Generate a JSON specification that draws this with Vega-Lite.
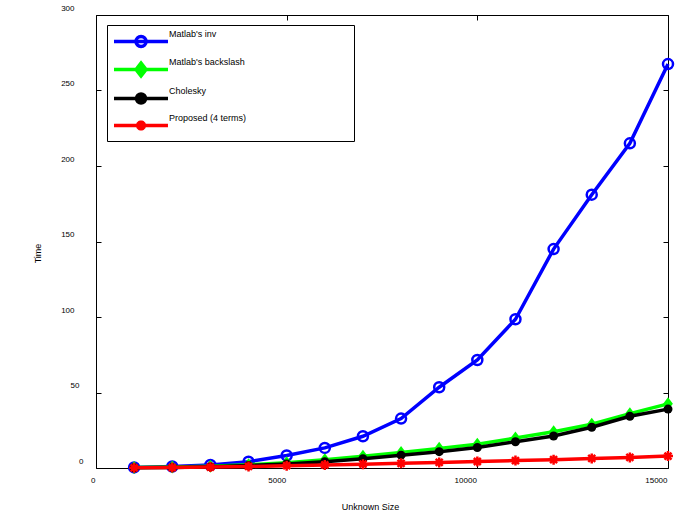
{
  "$schema": "https://vega.github.io/schema/vega-lite/v6.json",
  "width": 572,
  "height": 453,
  "autosize": {"type": "none"},
  "padding": {"left": 96, "top": 15, "right": 24, "bottom": 58},
  "background": "white",
  "config": {
    "view": {"stroke": "black", "strokeWidth": 1},
    "font": "Liberation Sans",
    "axis": {
      "labelFont": "Liberation Sans", "labelFontSize": 8, "labelColor": "black",
      "titleFont": "Liberation Sans", "titleFontSize": 9, "titleFontWeight": "normal", "titleColor": "black",
      "tickColor": "black", "tickWidth": 1, "tickSize": -5, "grid": false, "domain": false
    },
    "legend": {
      "labelFont": "Liberation Sans", "labelFontSize": 9, "labelColor": "black",
      "strokeColor": "black", "fillColor": "white", "padding": 3,
      "symbolSize": 289, "symbolStrokeWidth": 3.5, "labelOffset": 38, "rowPadding": 2,
      "labelLimit": 1000, "labelBaseline": "bottom"
    }
  },
  "data": {
    "values": [
      {"size": 1000, "time": 0.4, "method": "Matlab's inv"},
      {"size": 2000, "time": 1.0, "method": "Matlab's inv"},
      {"size": 3000, "time": 2.0, "method": "Matlab's inv"},
      {"size": 4000, "time": 4.2, "method": "Matlab's inv"},
      {"size": 5000, "time": 8.3, "method": "Matlab's inv"},
      {"size": 6000, "time": 13.3, "method": "Matlab's inv"},
      {"size": 7000, "time": 21, "method": "Matlab's inv"},
      {"size": 8000, "time": 32.7, "method": "Matlab's inv"},
      {"size": 9000, "time": 53.5, "method": "Matlab's inv"},
      {"size": 10000, "time": 71.5, "method": "Matlab's inv"},
      {"size": 11000, "time": 98.5, "method": "Matlab's inv"},
      {"size": 12000, "time": 145, "method": "Matlab's inv"},
      {"size": 13000, "time": 181, "method": "Matlab's inv"},
      {"size": 14000, "time": 215, "method": "Matlab's inv"},
      {"size": 15000, "time": 267.5, "method": "Matlab's inv"},
      {"size": 1000, "time": 0.3, "method": "Matlab's backslash"},
      {"size": 2000, "time": 0.6, "method": "Matlab's backslash"},
      {"size": 3000, "time": 1.2, "method": "Matlab's backslash"},
      {"size": 4000, "time": 2.2, "method": "Matlab's backslash"},
      {"size": 5000, "time": 3.5, "method": "Matlab's backslash"},
      {"size": 6000, "time": 5.5, "method": "Matlab's backslash"},
      {"size": 7000, "time": 7.8, "method": "Matlab's backslash"},
      {"size": 8000, "time": 10.3, "method": "Matlab's backslash"},
      {"size": 9000, "time": 13, "method": "Matlab's backslash"},
      {"size": 10000, "time": 15.8, "method": "Matlab's backslash"},
      {"size": 11000, "time": 19.8, "method": "Matlab's backslash"},
      {"size": 12000, "time": 24, "method": "Matlab's backslash"},
      {"size": 13000, "time": 29, "method": "Matlab's backslash"},
      {"size": 14000, "time": 36, "method": "Matlab's backslash"},
      {"size": 15000, "time": 42.5, "method": "Matlab's backslash"},
      {"size": 1000, "time": 0.2, "method": "Cholesky"},
      {"size": 2000, "time": 0.4, "method": "Cholesky"},
      {"size": 3000, "time": 0.9, "method": "Cholesky"},
      {"size": 4000, "time": 1.6, "method": "Cholesky"},
      {"size": 5000, "time": 2.7, "method": "Cholesky"},
      {"size": 6000, "time": 4.2, "method": "Cholesky"},
      {"size": 7000, "time": 6.2, "method": "Cholesky"},
      {"size": 8000, "time": 8.5, "method": "Cholesky"},
      {"size": 9000, "time": 10.8, "method": "Cholesky"},
      {"size": 10000, "time": 13.6, "method": "Cholesky"},
      {"size": 11000, "time": 17.4, "method": "Cholesky"},
      {"size": 12000, "time": 21.2, "method": "Cholesky"},
      {"size": 13000, "time": 27, "method": "Cholesky"},
      {"size": 14000, "time": 34.3, "method": "Cholesky"},
      {"size": 15000, "time": 39, "method": "Cholesky"},
      {"size": 1000, "time": 0.1, "method": "Proposed (4 terms)"},
      {"size": 2000, "time": 0.3, "method": "Proposed (4 terms)"},
      {"size": 3000, "time": 0.6, "method": "Proposed (4 terms)"},
      {"size": 4000, "time": 1.0, "method": "Proposed (4 terms)"},
      {"size": 5000, "time": 1.5, "method": "Proposed (4 terms)"},
      {"size": 6000, "time": 2.0, "method": "Proposed (4 terms)"},
      {"size": 7000, "time": 2.5, "method": "Proposed (4 terms)"},
      {"size": 8000, "time": 3.1, "method": "Proposed (4 terms)"},
      {"size": 9000, "time": 3.7, "method": "Proposed (4 terms)"},
      {"size": 10000, "time": 4.3, "method": "Proposed (4 terms)"},
      {"size": 11000, "time": 4.9, "method": "Proposed (4 terms)"},
      {"size": 12000, "time": 5.5, "method": "Proposed (4 terms)"},
      {"size": 13000, "time": 6.3, "method": "Proposed (4 terms)"},
      {"size": 14000, "time": 7.0, "method": "Proposed (4 terms)"},
      {"size": 15000, "time": 7.9, "method": "Proposed (4 terms)"}
    ]
  },
  "layer": [
    {
      "transform": [{"filter": "datum.method == \"Matlab's inv\""}],
      "mark": {"type": "line", "color": "#0000ff", "strokeWidth": 3.5},
      "encoding": {
        "x": {"field": "size", "type": "quantitative", "scale": {"domain": [0, 15000], "nice": false, "zero": false},
          "axis": {"orient": "bottom", "values": [0, 5000, 10000, 15000], "title": "Unknown Size", "labelAlign": "right", "labelFlush": false, "labelOffset": -1, "labelPadding": 13, "labelBaseline": "top", "format": "d", "titleX": 274, "titleY": 38, "titleBaseline": "middle", "titleAnchor": null}},
        "y": {"field": "time", "type": "quantitative", "scale": {"domain": [0, 300], "nice": false, "zero": false},
          "axis": {"orient": "left", "values": [0, 50, 100, 150, 200, 250, 300], "title": "Time", "labelOffset": -7, "labelAlign": "right", "labelBaseline": "middle", "labelFlush": false,
            "labelPadding": {"condition": [{"test": "datum.value == 0", "value": 18}, {"test": "datum.value == 50", "value": 22}], "value": 27},
            "titleX": -59, "titleY": 238, "titleBaseline": "middle", "titleAlign": "center"}}
      }
    },
    {
      "transform": [{"filter": "datum.method == \"Matlab's inv\""}],
      "mark": {"type": "point", "shape": "circle", "filled": false, "color": "#0000ff", "strokeWidth": 2.5, "size": 100, "opacity": 1},
      "encoding": {
        "x": {"field": "size", "type": "quantitative", "scale": {"domain": [0, 15000], "nice": false, "zero": false},
          "axis": {"orient": "top", "values": [0, 5000, 10000, 15000], "labels": false, "title": null}},
        "y": {"field": "time", "type": "quantitative", "scale": {"domain": [0, 300], "nice": false, "zero": false},
          "axis": {"orient": "right", "values": [0, 50, 100, 150, 200, 250, 300], "labels": false, "title": null}}
      }
    },
    {
      "transform": [{"filter": "datum.method == \"Matlab's backslash\""}],
      "mark": {"type": "line", "color": "#00ff00", "strokeWidth": 3.5},
      "encoding": {
        "x": {"field": "size", "type": "quantitative", "axis": null},
        "y": {"field": "time", "type": "quantitative", "axis": null}
      }
    },
    {
      "transform": [{"filter": "datum.method == \"Matlab's backslash\""}],
      "mark": {"type": "point", "shape": "M-0.75,0L0,-1L0.75,0L0,1Z", "filled": true, "color": "#00ff00", "size": 169, "opacity": 1},
      "encoding": {
        "x": {"field": "size", "type": "quantitative", "axis": null},
        "y": {"field": "time", "type": "quantitative", "axis": null}
      }
    },
    {
      "transform": [{"filter": "datum.method == 'Cholesky'"}],
      "mark": {"type": "line", "color": "#000000", "strokeWidth": 3.5},
      "encoding": {
        "x": {"field": "size", "type": "quantitative", "axis": null},
        "y": {"field": "time", "type": "quantitative", "axis": null}
      }
    },
    {
      "transform": [{"filter": "datum.method == 'Cholesky'"}],
      "mark": {"type": "point", "shape": "circle", "filled": true, "color": "#000000", "size": 81, "opacity": 1},
      "encoding": {
        "x": {"field": "size", "type": "quantitative", "axis": null},
        "y": {"field": "time", "type": "quantitative", "axis": null}
      }
    },
    {
      "transform": [{"filter": "datum.method == 'Proposed (4 terms)'"}],
      "mark": {"type": "line", "color": "#ff0000", "strokeWidth": 3.5},
      "encoding": {
        "x": {"field": "size", "type": "quantitative", "axis": null},
        "y": {"field": "time", "type": "quantitative", "axis": null}
      }
    },
    {
      "transform": [{"filter": "datum.method == 'Proposed (4 terms)'"}],
      "mark": {"type": "point", "shape": "M-1,0L1,0M0,-1L0,1M-0.7,-0.7L0.7,0.7M-0.7,0.7L0.7,-0.7", "filled": false, "color": "#ff0000", "strokeWidth": 2.5, "size": 100, "opacity": 1},
      "encoding": {
        "x": {"field": "size", "type": "quantitative", "axis": null},
        "y": {"field": "time", "type": "quantitative", "axis": null}
      }
    },
    {
      "transform": [{"filter": "datum.size < 0"}],
      "mark": {"type": "point", "opacity": 1},
      "encoding": {
        "shape": {"field": "method", "type": "nominal",
          "scale": {"domain": ["Matlab's inv", "Matlab's backslash", "Cholesky", "Proposed (4 terms)"],
            "range": [
              "M-0.765,0.35L5.585,0.35M3.005,0.35A0.59,0.59,0,1,1,1.825,0.35A0.59,0.59,0,1,1,3.005,0.35ZM26.25,0.35",
              "M-0.765,0.35L5.585,0.35M1.825,0.35L2.415,-0.41L3.005,0.35L2.415,1.11ZM26.25,0.35",
              "M-0.765,0.35L5.585,0.35M2.945,0.35A0.53,0.53,0,1,1,1.885,0.35A0.53,0.53,0,1,1,2.945,0.35ZM26.25,0.35",
              "M-0.765,0.35L5.585,0.35M1.825,0.35L3.005,0.35M2.415,-0.24L2.415,0.94M1.995,-0.07L2.835,0.77M1.995,0.77L2.835,-0.07M26.25,0.35"
            ]},
          "legend": {"title": null, "orient": "none", "legendX": 11, "legendY": 10}},
        "stroke": {"field": "method", "type": "nominal",
          "scale": {"domain": ["Matlab's inv", "Matlab's backslash", "Cholesky", "Proposed (4 terms)"],
            "range": ["#0000ff", "#00ff00", "#000000", "#ff0000"]},
          "legend": {"title": null, "orient": "none", "legendX": 11, "legendY": 10}},
        "fill": {"field": "method", "type": "nominal",
          "scale": {"domain": ["Matlab's inv", "Matlab's backslash", "Cholesky", "Proposed (4 terms)"],
            "range": ["transparent", "#00ff00", "#000000", "transparent"]},
          "legend": {"title": null, "orient": "none", "legendX": 11, "legendY": 10}}
      }
    }
  ],
  "resolve": {"axis": {"x": "independent", "y": "independent"}}
}
